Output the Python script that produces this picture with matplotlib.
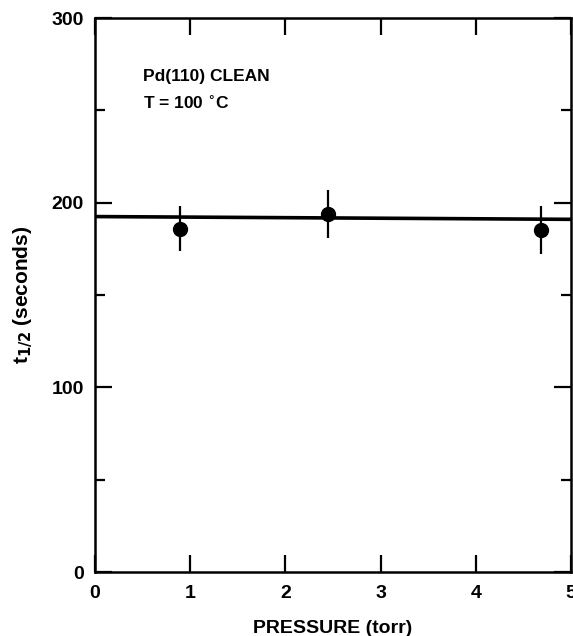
import numpy as np
import matplotlib.pyplot as plt
from matplotlib.ticker import MultipleLocator

# dados
pressao = [0.89, 2.45, 4.69]
t_meia = [186, 194, 185]
erro = [12, 13, 13]
linha_x = [0, 5]
linha_y = [192.5, 191]

plt.rcParams['font.family'] = ['Liberation Sans', 'DejaVu Sans']
plt.rcParams['font.weight'] = 'bold'

fig = plt.figure(figsize=(5.73, 6.36), dpi=100)
ax = fig.add_axes([0.166, 0.1006, 0.8305, 0.871])

ax.plot(linha_x, linha_y, color='black', lw=2.6)
ax.errorbar(pressao, t_meia, yerr=erro, fmt='o', color='black', ms=10,
            elinewidth=1.6, capsize=0)

ax.set_xlim(0, 5)
ax.set_ylim(0, 300)
ax.xaxis.set_major_locator(MultipleLocator(1))
ax.yaxis.set_major_locator(MultipleLocator(100))
ax.yaxis.set_minor_locator(MultipleLocator(50))

ax.tick_params(which='both', direction='in', top=True, right=True, width=1.6,
               labelsize=14)
ax.tick_params(which='major', length=12)
ax.tick_params(which='minor', length=7)
ax.tick_params(axis='x', pad=9)
ax.tick_params(axis='y', pad=8)
for s in ax.spines.values():
    s.set_linewidth(1.8)

ax.text(0.5, 266, 'Pd(110) CLEAN', fontsize=12.5, fontweight='bold')
ax.text(0.5, 251, 'T = 100 $^{\\circ}$C', fontsize=12.5, fontweight='bold')

ax.set_xlabel('PRESSURE (torr)', fontsize=14, fontweight='bold', labelpad=13)
ax.set_ylabel('t$_{\\mathbf{1/2}}$ (seconds)', fontsize=15, fontweight='bold', labelpad=12)

fig.savefig('out.png', dpi=100)
